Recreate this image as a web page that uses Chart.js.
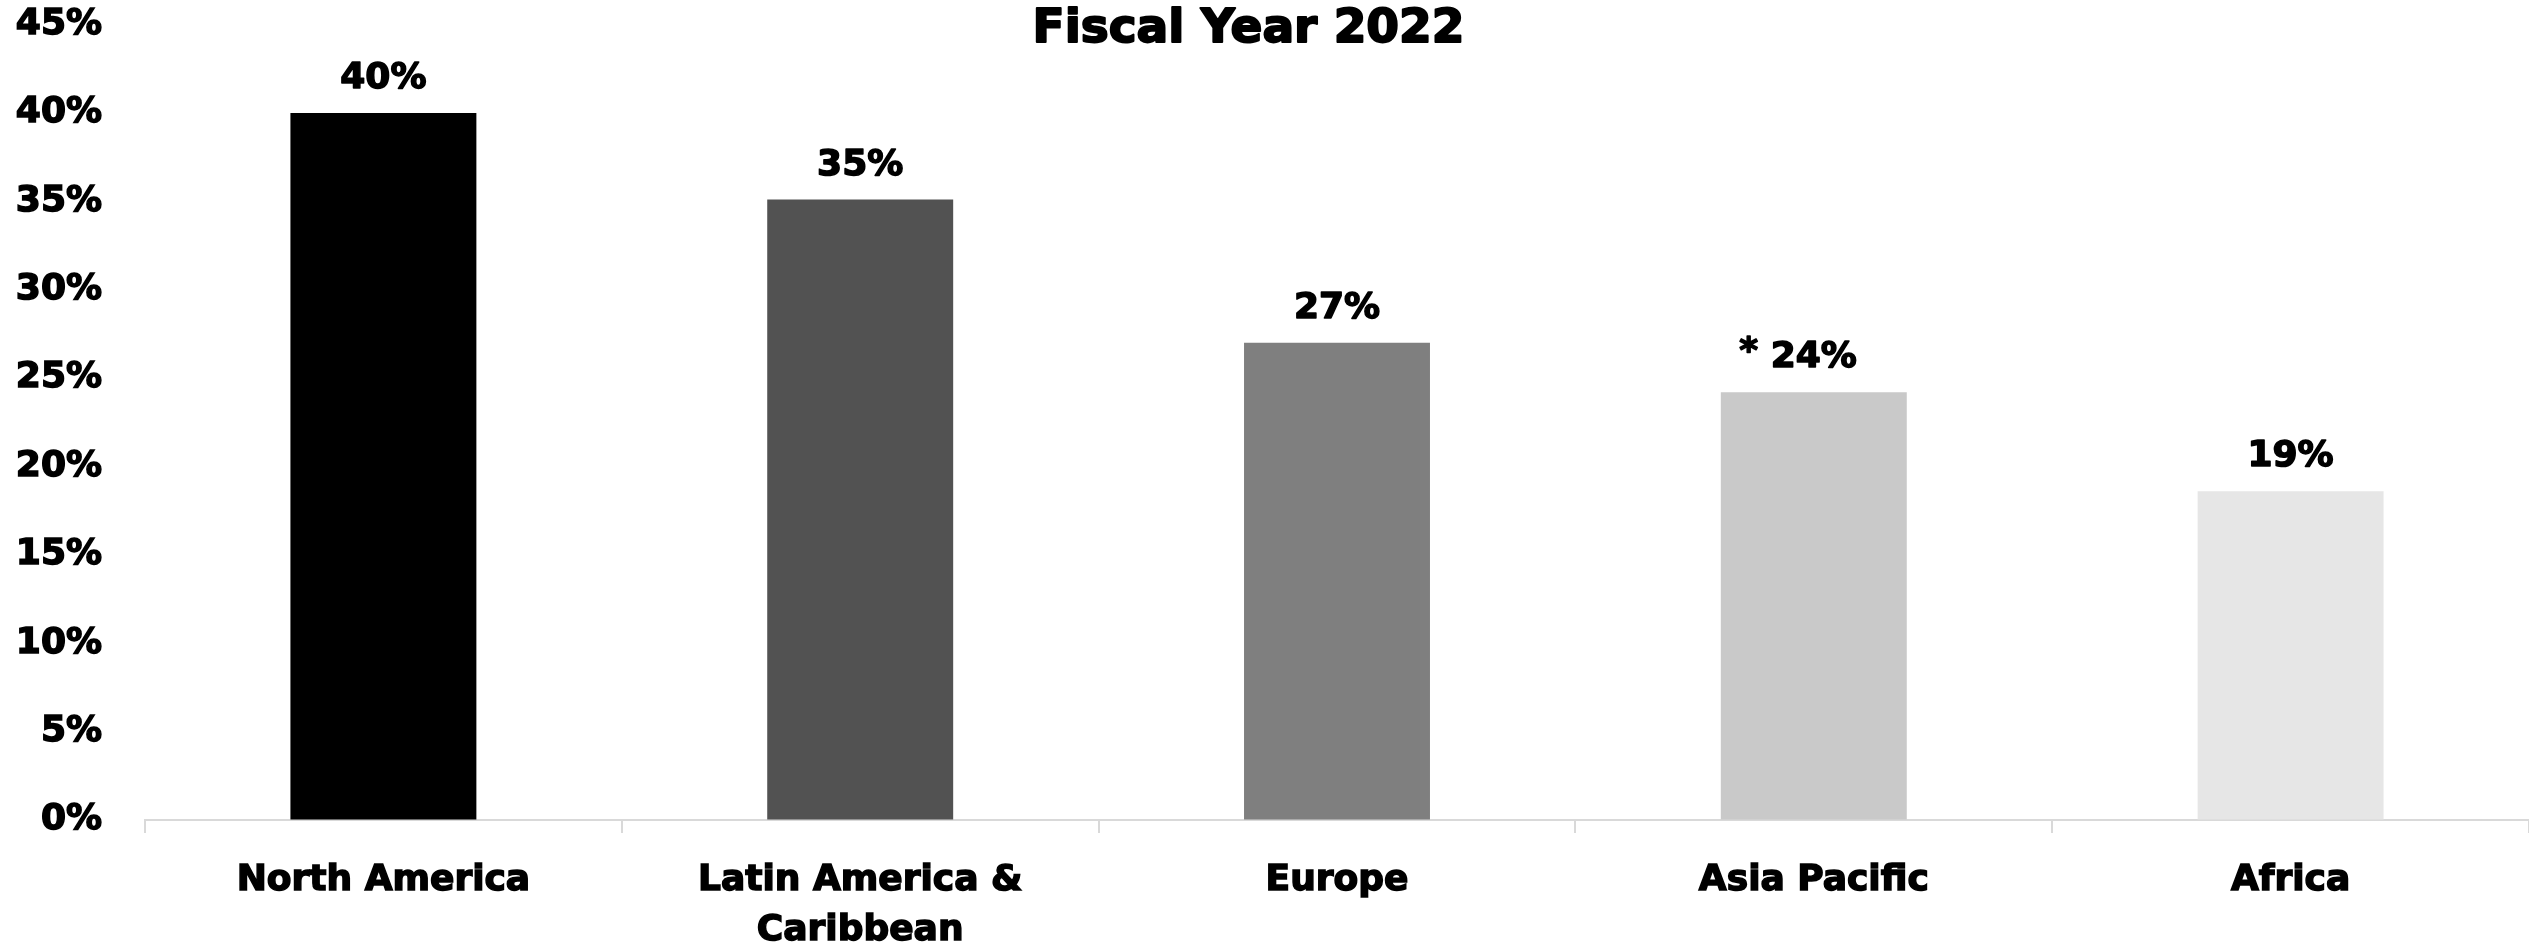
<!DOCTYPE html>
<html>
<head>
<meta charset="utf-8">
<script src="https://cdn.jsdelivr.net/npm/chart.js@4/dist/chart.umd.min.js"></script>
<style>
html, body { margin: 0; padding: 0; background: #fff; }
#wrap { width: 2529px; height: 945px; }
</style>
</head>
<body>
<div id="wrap"><canvas id="chart"></canvas></div>
<script>
const chart_title = "Fiscal Year 2022";
const regions = ["North America", ["Latin America &", "Caribbean"], "Europe", "Asia Pacific", "Africa"];
const share_pct = [40.0, 35.1, 27.0, 24.2, 18.6];
const bar_colors = ["#000000", "#525252", "#7f7f7f", "#c9c9c9", "#e6e6e6"];
const label_notes = ["", "", "", "*", ""];
const y_ticks = [0, 5, 10, 15, 20, 25, 30, 35, 40, 45];

const FONT = "'DejaVu Sans', sans-serif";
const HEAVY = 1.5;  // extra stroke to thicken the bold glyphs

// percentage above each bar, with an optional footnote mark to its left
const value_labels = {
    id: "value_labels",
    afterDatasetsDraw(chart) {
        const ctx = chart.ctx;
        const meta = chart.getDatasetMeta(0);
        ctx.save();
        ctx.font = `bold 36px ${FONT}`;
        ctx.fillStyle = "#000";
        ctx.strokeStyle = "#000";
        ctx.lineWidth = HEAVY;
        ctx.lineJoin = "round";
        ctx.textBaseline = "alphabetic";
        meta.data.forEach((bar, i) => {
            const txt = Math.round(share_pct[i]) + "%";
            const y = bar.y - 25;
            ctx.textAlign = "center";
            ctx.fillText(txt, bar.x, y);
            ctx.strokeText(txt, bar.x, y);
            if (label_notes[i]) {
                const w = ctx.measureText(txt).width;
                const note = label_notes[i] + " ";
                ctx.textAlign = "right";
                ctx.fillText(note, bar.x - w / 2, y - 5);
                ctx.strokeText(note, bar.x - w / 2, y - 5);
            }
        });
        ctx.restore();
    }
};

// title sits in the top margin, level with the top tick
const title_text = {
    id: "title_text",
    afterDraw(chart) {
        const ctx = chart.ctx;
        ctx.save();
        ctx.font = `bold 47px ${FONT}`;
        ctx.fillStyle = "#000";
        ctx.strokeStyle = "#000";
        ctx.lineWidth = HEAVY + 0.5;
        ctx.lineJoin = "round";
        ctx.textAlign = "center";
        ctx.textBaseline = "alphabetic";
        const x = chart.width / 2 - 16;
        ctx.fillText(chart_title, x, 42);
        ctx.strokeText(chart_title, x, 42);
        ctx.restore();
    }
};

const chart_config = {
    type: "bar",
    data: {
        labels: regions,
        datasets: [{
            data: share_pct,
            backgroundColor: bar_colors,
            borderWidth: 0,
            barPercentage: 0.39,
            categoryPercentage: 1.0,
        }],
    },
    options: {
        responsive: true,
        maintainAspectRatio: false,
        animation: false,
        events: [],
        layout: {
            padding: { top: 0, right: 0, bottom: 0, left: 0 },
        },
        plugins: {
            legend: { display: false },
            title: { display: false },
            tooltip: { enabled: false },
        },
        scales: {
            x: {
                grid: {
                    display: true,
                    drawOnChartArea: false,
                    drawTicks: true,
                    tickLength: 13,
                    color: "#d9d9d9",
                    lineWidth: 2,
                },
                border: { display: true, color: "#d9d9d9", width: 2 },
                ticks: {
                    color: "#000",
                    padding: 23,
                    maxRotation: 0,
                    autoSkip: false,
                    textStrokeColor: "#000",
                    textStrokeWidth: HEAVY,
                    font: { family: FONT, size: 36, weight: "bold", lineHeight: 50 / 36 },
                },
                afterFit(scale) { scale.height = 125; },
            },
            y: {
                min: 0,
                max: 45,
                // invisible tick marks keep the labels clear of the plot
                grid: {
                    display: true,
                    drawOnChartArea: false,
                    drawTicks: true,
                    tickLength: 40,
                    color: "rgba(0,0,0,0)",
                },
                border: { display: false },
                afterBuildTicks(axis) {
                    axis.ticks = y_ticks.map(v => ({ value: v }));
                },
                ticks: {
                    color: "#000",
                    padding: 3,
                    textStrokeColor: "#000",
                    textStrokeWidth: HEAVY,
                    callback: v => v + "%",
                    font: { family: FONT, size: 36, weight: "bold" },
                },
                afterFit(scale) { scale.width = 145; },
            },
        },
    },
    plugins: [value_labels, title_text],
};

const chart = new Chart(document.getElementById("chart"), chart_config);
</script>
</body>
</html>
